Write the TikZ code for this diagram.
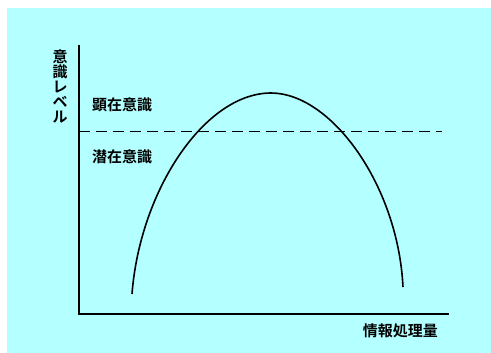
\documentclass[tikz,border=0pt]{standalone}
\usepackage{fontspec}
\newfontfamily\jpfont{Noto Sans CJK JP}[BoldFont={* Bold}]
\usetikzlibrary{positioning}
\definecolor{bgcyan}{RGB}{180, 255, 255}

\begin{document}
\begin{tikzpicture}[x=1pt, y=-1pt, every node/.style={font=\jpfont\bfseries\fontsize{15}{14.8}\selectfont, inner sep=0pt}]
    \tikzstyle{axis} = [line width=1.8pt, black]
    \tikzstyle{level} = [line width=1pt, dash pattern=on 11pt off 6pt]
    \tikzstyle{curve} = [line width=1.6pt, black]
    \tikzstyle{label} = [anchor=west]

    % Background
    \useasboundingbox (0,0) rectangle (491,353);
    \fill[white] (0,0) rectangle (491,353);
    \fill[bgcyan] (7,8) rectangle (491,353);

    % Axes
    \coordinate (origin) at (79,314);
    \coordinate (ytop) at (79,45);
    \coordinate (xend) at (449,314);
    \draw [axis] (ytop) -- (origin) -- (xend);

    % Threshold
    \coordinate (lvlstart) at (79,131.5);
    \coordinate (lvlend) at (442,131.5);
    \draw [level] (lvlstart) -- (lvlend);

    % Curve
    \coordinate (left) at (132,294);
    \coordinate (peak) at (271,93);
    \coordinate (right) at (403,287);
    \draw [curve] (left) .. controls (140,190) and (205,93) .. (peak)
                         .. controls (331,93) and (398,185) .. (right);

    % Labels
    \node (ylabel) [align=center] at (60,86.5) {意\\識\\レ\\ベ\\ル};
    \node (upper) [label] at (92,105) {顕在意識};
    \node (lower) [label] at (92,157) {潜在意識};
    \node (xlabel) [anchor=east] at (438,331) {情報処理量};
\end{tikzpicture}
\end{document}
